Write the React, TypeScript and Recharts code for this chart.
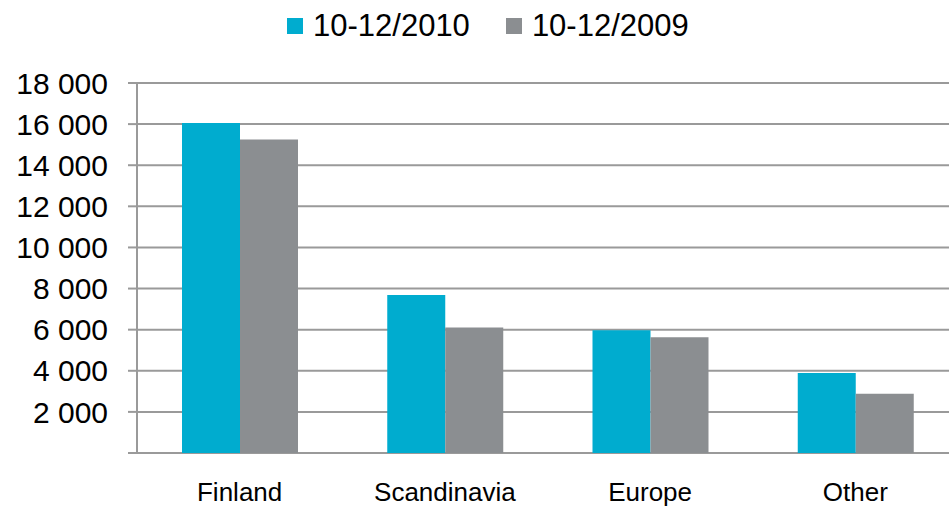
import { Bar, BarChart, CartesianGrid, XAxis, YAxis } from 'recharts';

const regions = ['Finland', 'Scandinavia', 'Europe', 'Other'];
const sales2010 = [16050, 7690, 5970, 3890];
const sales2009 = [15250, 6110, 5630, 2880];
const yTicks = [0, 2000, 4000, 6000, 8000, 10000, 12000, 14000, 16000, 18000];

const seriesList = [
  { key: 'y2010', name: '10-12/2010', color: '#00ACCF' },
  { key: 'y2009', name: '10-12/2009', color: '#8B8E91' },
];

const data = regions.map((region, i) => ({
  region,
  idx: i + 0.5,
  y2010: sales2010[i],
  y2009: sales2009[i],
}));

const font = '"Liberation Sans", Arial, sans-serif';
const fmt = (v: number) => (v === 0 ? '' : v.toLocaleString('en-US').replace(/,/g, ' '));

function LegendRow() {
  return (
    <div style={{ position: 'absolute', top: 9, left: 287, display: 'flex', alignItems: 'center', fontFamily: font }}>
      {seriesList.map((s, i) => (
        <div key={s.key} style={{ display: 'flex', alignItems: 'center', marginLeft: i ? 36 : 0 }}>
          <span style={{ width: 16, height: 16, background: s.color, display: 'inline-block', marginRight: 10 }} />
          <span style={{ fontSize: 31, lineHeight: '34px', color: '#000' }}>{s.name}</span>
        </div>
      ))}
    </div>
  );
}

export default function App() {
  return (
    <div style={{ position: 'fixed', left: 0, top: 0, width: 949, height: 506, overflow: 'hidden', background: '#fff' }}>
      <BarChart
        width={958}
        height={506}
        data={data}
        margin={{ top: 83, right: 0, bottom: 0, left: 0 }}
        barGap={0}
        barSize={58}
      >
        <CartesianGrid vertical={false} stroke="#9A9A9A" strokeWidth={2} />
        <XAxis
          dataKey="region"
          xAxisId="cat"
          height={53}
          tickLine={false}
          axisLine={false}
          tickSize={0}
          tickMargin={30}
          tick={{ fontSize: 26, fill: '#000', fontFamily: font }}
        />
        <XAxis
          xAxisId="edge"
          type="number"
          dataKey="idx"
          domain={[0, 4]}
          ticks={[0, 1, 2, 3, 4]}
          tickFormatter={() => ''}
          tickSize={8}
          height={0}
          axisLine={{ stroke: '#9A9A9A', strokeWidth: 2 }}
          tickLine={{ stroke: '#9A9A9A', strokeWidth: 2 }}
        />
        <YAxis
          width={137}
          domain={[0, 18000]}
          ticks={yTicks}
          tickFormatter={fmt}
          tickSize={9}
          tickMargin={20}
          interval={0}
          axisLine={{ stroke: '#9A9A9A', strokeWidth: 2 }}
          tickLine={{ stroke: '#9A9A9A', strokeWidth: 2 }}
          tick={{ fontSize: 30, fill: '#000', fontFamily: font }}
        />
        {seriesList.map((s) => (
          <Bar key={s.key} xAxisId="cat" dataKey={s.key} name={s.name} fill={s.color} isAnimationActive={false} />
        ))}
      </BarChart>
      <LegendRow />
    </div>
  );
}
